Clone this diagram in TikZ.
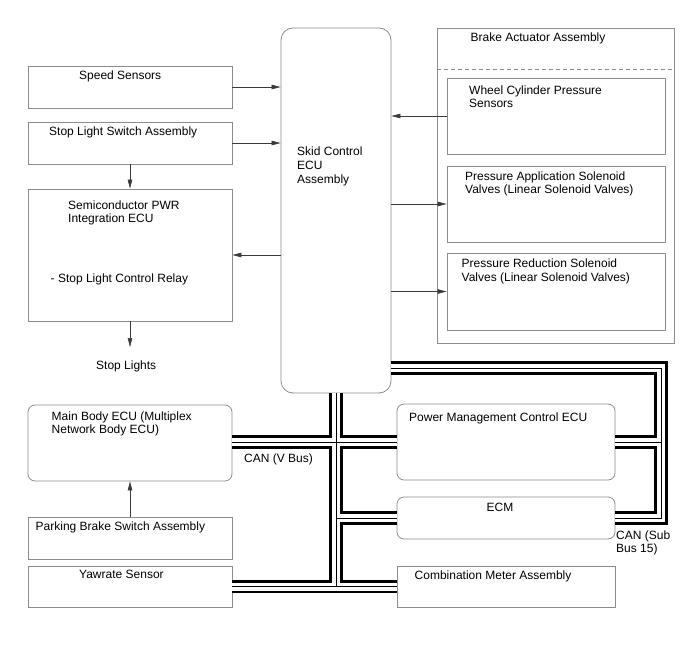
\documentclass[tikz,border=0pt]{standalone}
\usepackage{fontspec}
\setmainfont{Liberation Sans}
\usetikzlibrary{arrows.meta}
\definecolor{frm}{HTML}{8C8C8C}
\definecolor{wire}{HTML}{3A3A3A}

\begin{document}
\begin{tikzpicture}[x=1pt, y=-1pt, font=\fontsize{12}{13.6}\selectfont,
  box/.style={draw=frm, fill=white, line width=0.8pt, inner sep=0pt, minimum width=204pt},
  ecu/.style={box, rounded corners=7pt},
  txt/.style={anchor=north west, align=left, inner sep=0pt},
  arr/.style={draw=wire, line width=0.6pt, -{Triangle[length=9pt, width=4.5pt]}},
  canbus/.style={line width=13.5pt, black, postaction={draw, white, line width=8pt}, postaction={draw, black, line width=1pt}}]
\useasboundingbox (0,0) rectangle (688,658);
% left column
\node[box, minimum height=42pt] (speed) at (130,87) {};
\node[txt] (speedlbl) at (79,70.5) {Speed Sensors};
\node[box, minimum height=42pt] (stopsw) at (130,143) {};
\node[txt] (stopswlbl) at (49,127) {Stop Light Switch Assembly};
\node[box, minimum height=132pt] (semi) at (130,255) {};
\node[txt] (semilbl) at (68,200.5) {Semiconductor PWR\\Integration ECU};
\node[txt] (relaylbl) at (50.5,274) {- Stop Light Control Relay};
\node[txt] (stoplt) at (96,360.5) {Stop Lights};
\node[ecu, minimum height=76pt] (mainbody) at (130,443) {};
\node[txt] (mainbodylbl) at (51.5,411.5) {Main Body ECU (Multiplex\\Network Body ECU)};
\node[box, minimum height=42pt] (parkbrk) at (130,538) {};
\node[txt] (parkbrklbl) at (35.5,522) {Parking Brake Switch Assembly};
\node[box, minimum height=41pt] (yaw) at (130,586.5) {};
\node[txt] (yawlbl) at (79,570) {Yawrate Sensor};
% skid control ecu
\node[box, rounded corners=12pt, minimum width=110pt, minimum height=365pt] (skid) at (336,210.5) {};
\node[txt] (skidlbl) at (297,147) {Skid Control\\ECU\\Assembly};
% brake actuator
\node[box, minimum width=237pt, minimum height=315pt] (brake) at (555.5,185.5) {};
\node[txt] (brakelbl) at (470.5,33) {Brake Actuator Assembly};
\draw[frm, line width=0.8pt, dash pattern=on 4pt off 3pt] ([yshift=-42pt]brake.north west) -- ([yshift=-42pt]brake.north east);
\node[box, minimum width=218pt, minimum height=76pt] (wheel) at (556,116) {};
\node[txt] (wheellbl) at (469,85.5) {Wheel Cylinder Pressure\\Sensors};
\node[box, minimum width=218pt, minimum height=76pt] (papp) at (556,204) {};
\node[txt] (papplbl) at (465,171.5) {Pressure Application Solenoid\\Valves (Linear Solenoid Valves)};
\node[box, minimum width=218pt, minimum height=77pt] (pred) at (556,291.5) {};
\node[txt] (predlbl) at (461.5,259) {Pressure Reduction Solenoid\\Valves (Linear Solenoid Valves)};
% can side
\node[ecu, minimum width=218pt, minimum height=76pt] (pwrmgmt) at (506,442) {};
\node[txt] (pwrmgmtlbl) at (409,412.5) {Power Management Control ECU};
\node[ecu, minimum width=218pt, minimum height=42pt] (ecm) at (506,518) {};
\node[txt] (ecmlbl) at (486.5,502.5) {ECM};
\node[box, minimum width=218pt, minimum height=41pt] (combo) at (506,586.5) {};
\node[txt] (combolbl) at (414.5,570.5) {Combination Meter Assembly};
\node[txt] (canvlbl) at (244,453.5) {CAN (V Bus)};
\node[txt] (cansublbl) at (616,530.5) {CAN (Sub\\Bus 15)};
% signal lines
\draw[arr] (speed.east) -- (speed.east -| skid.west);
\draw[arr] (stopsw.east) -- (stopsw.east -| skid.west);
\draw[arr] (stopsw.south) -- (semi.north);
\draw[arr] (skid.west |- semi.east) -- (semi.east);
\draw[arr, shorten >=13.5pt] (semi.south) -- (semi.south |- stoplt.north);
\draw[arr] (parkbrk.north) -- (mainbody.south);
\draw[arr] (wheel.west) -- (wheel.west -| skid.east);
\draw[arr] (skid.east |- papp.west) -- (papp.west);
\draw[arr] (skid.east |- pred.west) -- (pred.west);
% can buses
\coordinate (subr) at (661,368);
\draw[canbus] (skid.south) -- (skid.south |- yaw.east)
  (mainbody.east |- pwrmgmt.west) -- (pwrmgmt.west)
  (skid.south |- ecm.west) -- (ecm.west)
  (yaw.east) -- (combo.west);
\draw[canbus] (skid.east |- subr) -- (subr) |- (ecm.east)
  (subr |- pwrmgmt.east) -- (pwrmgmt.east);
\end{tikzpicture}
\end{document}
